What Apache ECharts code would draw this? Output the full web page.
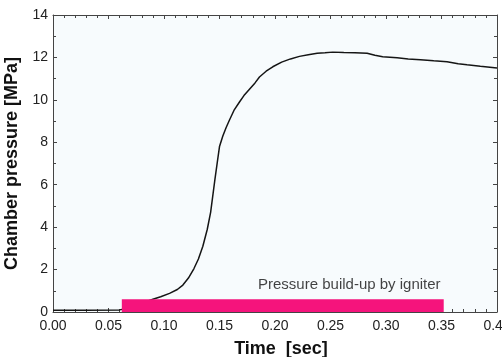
<!DOCTYPE html>
<html>
<head>
    <meta charset="UTF-8">
    <title>Chamber pressure</title>
    <script type="text/javascript" src="https://cdn.jsdelivr.net/npm/echarts@6/dist/echarts.min.js"></script>
    <style type="text/css">
        html, body { margin: 0; padding: 0; background: #ffffff; }
        #main { width: 502px; height: 357px; }
    </style>
</head>
<body>
    <div id="main"></div>
    <script type="text/javascript">
        // time [sec] and chamber pressure [MPa]
        var time = [0, 0.03, 0.06, 0.07, 0.08, 0.09, 0.097, 0.105, 0.112, 0.117, 0.122, 0.127,
            0.131, 0.135, 0.139, 0.142, 0.144, 0.146, 0.148, 0.150, 0.153, 0.156, 0.159, 0.163,
            0.168, 0.172, 0.177, 0.182, 0.186, 0.192, 0.198, 0.206, 0.214, 0.222, 0.230, 0.238,
            0.245, 0.252, 0.262, 0.272, 0.283, 0.290, 0.297, 0.310, 0.320, 0.331, 0.343, 0.355,
            0.365, 0.373, 0.385, 0.400];
        var pressure = [0.08, 0.08, 0.1, 0.2, 0.42, 0.6, 0.72, 0.88, 1.06, 1.27, 1.6, 2.05,
            2.5, 3.1, 3.9, 4.7, 5.5, 6.3, 7.05, 7.8, 8.3, 8.7, 9.05, 9.5,
            9.9, 10.2, 10.5, 10.8, 11.08, 11.35, 11.56, 11.78, 11.93, 12.05, 12.13, 12.2,
            12.22, 12.25, 12.23, 12.22, 12.2, 12.1, 12.03, 11.98, 11.93, 11.89, 11.84, 11.8,
            11.7, 11.65, 11.58, 11.5];

        // igniter bar: start/end time and bar height
        var igniterRange = [0.062, 0.352];
        var igniterHeight = 0.6;
        var igniterText = 'Pressure build-up by igniter';
        var igniterTextAt = [0.1847, 1.27];

        var xTicks = { min: 0, max: 0.4, interval: 0.05 };
        var yTicks = { min: 0, max: 14, interval: 2 };

        var curve = [];
        for (var i = 0; i < time.length; i++) {
            curve.push([time[i], pressure[i]]);
        }

        var font = 'Liberation Sans, Arial, sans-serif';
        var axisColor = '#444';

        function frameAxis(pos, ticks, split, showLabels) {
            var ax = {
                type: 'value',
                position: pos,
                min: ticks.min,
                max: ticks.max,
                interval: ticks.interval,
                axisLine: { show: true, onZero: false, lineStyle: { color: axisColor, width: 1 } },
                axisTick: { show: true, inside: true, length: 4, lineStyle: { color: axisColor } },
                minorTick: { show: true, splitNumber: split, length: 3, lineStyle: { color: axisColor } },
                splitLine: { show: false },
                axisLabel: { show: false }
            };
            if (showLabels) {
                ax.axisLabel = {
                    show: true,
                    color: '#222',
                    fontSize: 14,
                    fontFamily: font,
                    margin: 7
                };
            }
            return ax;
        }

        var xBottom = frameAxis('bottom', xTicks, 5, true);
        xBottom.axisLabel.formatter = function (v) { return v.toFixed(2); };
        xBottom.name = 'Time  [sec]';
        xBottom.nameLocation = 'middle';
        xBottom.nameGap = 28;
        xBottom.nameTextStyle = { fontSize: 18, fontWeight: 'bold', color: '#111', fontFamily: font, padding: [0, 0, 0, 12] };

        var yLeft = frameAxis('left', yTicks, 2, true);
        yLeft.axisLabel.margin = 5;
        yLeft.name = 'Chamber pressure [MPa]';
        yLeft.nameLocation = 'middle';
        yLeft.nameGap = 28;
        yLeft.nameTextStyle = { fontSize: 18, fontWeight: 'bold', color: '#111', fontFamily: font };

        var xTop = frameAxis('top', xTicks, 5, false);
        var yRight = frameAxis('right', yTicks, 2, false);

        var option = {
            animation: false,
            backgroundColor: '#ffffff',
            grid: {
                left: 53, right: 5, top: 15, bottom: 45,
                outerBoundsMode: 'none',
                containLabel: false,
                show: true,
                backgroundColor: '#f7fbfd',
                borderWidth: 0
            },
            xAxis: [xBottom, xTop],
            yAxis: [yLeft, yRight],
            series: [
                {
                    type: 'line',
                    data: curve,
                    showSymbol: false,
                    symbol: 'none',
                    lineStyle: { color: '#151515', width: 1.5 },
                    z: 2
                },
                {
                    type: 'line',
                    data: [],
                    z: 3,
                    markArea: {
                        silent: true,
                        z: 5,
                        itemStyle: { color: '#f5147c', opacity: 1 },
                        data: [[
                            { coord: [igniterRange[0], 0] },
                            { coord: [igniterRange[1], igniterHeight] }
                        ]]
                    }
                },
                {
                    type: 'scatter',
                    data: [igniterTextAt],
                    symbolSize: 0,
                    label: {
                        show: true,
                        position: 'right',
                        distance: 0,
                        formatter: igniterText,
                        color: '#111',
                        fontSize: 15,
                        fontFamily: font
                    },
                    z: 4
                }
            ]
        };

        var myChart = echarts.init(document.getElementById('main'));
        myChart.setOption(option);
    </script>
</body>
</html>
